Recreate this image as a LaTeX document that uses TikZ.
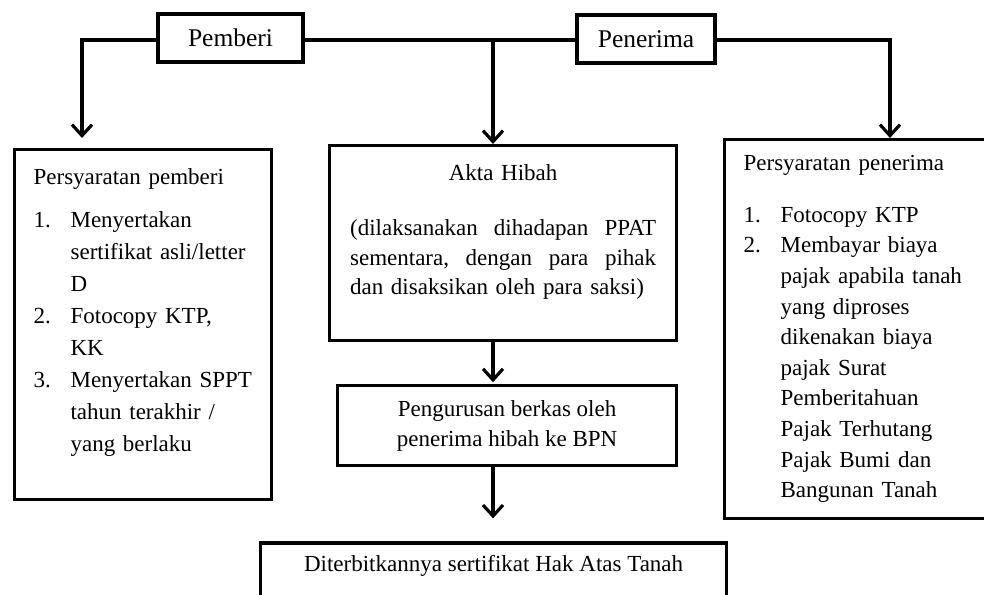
\documentclass[tikz,border=0pt]{standalone}
\usepackage{fontspec}
\setmainfont{Liberation Serif}
\usepackage{tikz}
\usetikzlibrary{arrows.meta, positioning}
\tikzset{
  box/.style={rectangle, draw, line width=3.2pt, fill=white, inner ysep=0pt,
              font=\fontsize{23}{30}\selectfont},
  headbox/.style={box, minimum height=48pt, font=\fontsize{25.5}{30}\selectfont},
  link/.style={line width=3.2pt},
  arrow/.style={link, -{Straight Barb[length=11pt,width=20pt]}},
}

\begin{document}
\begin{tikzpicture}[x=1pt, y=-1pt]
  \useasboundingbox (0,0) rectangle (984,594);
  \clip (0,0) rectangle (984,594);

  % Parties
  \node[headbox, minimum width=145pt] (pemberi) at (230.5,38) {Pemberi};
  \node[headbox, minimum width=138pt] (penerima) at (646,39) {Penerima};

  % Branch points on the top line
  \coordinate (lcorner) at (82,40);
  \coordinate (mid) at (493,40);
  \coordinate (rcorner) at (890,40);

  % Requirements of the giver
  \node[box, anchor=north west, inner xsep=19pt, text width=219pt, align=left,
        text height=35pt, text depth=315pt, font=\fontsize{23}{32}\selectfont]
    (pemberireq) at (13,148) {Persyaratan pemberi\\[11pt]
    \begin{tabular}[t]{@{}p{37pt}@{}l@{}}
      1. & Menyertakan\\
         & sertifikat asli/letter\\
         & D\\
      2. & Fotocopy KTP,\\
         & KK\\
      3. & Menyertakan SPPT\\
         & tahun terakhir /\\
         & yang berlaku
    \end{tabular}};

  % Deed
  \node[box, anchor=north west, inner xsep=20.5pt, text width=306pt, align=left,
        text height=35pt, text depth=160pt, font=\fontsize{23}{29.7}\selectfont]
    (akta) at (328,144) {\makebox[306pt]{Akta Hibah}\\[25pt]
    \makebox[306pt][s]{(dilaksanakan\hfill dihadapan\hfill PPAT}\\
    \makebox[306pt][s]{sementara,\hfill dengan\hfill para\hfill pihak}\\
    dan disaksikan oleh para saksi)};

  % Requirements of the receiver
  \node[box, anchor=north west, inner xsep=19pt, text width=239pt, align=left,
        text height=31pt, text depth=348pt, font=\fontsize{23}{30.6}\selectfont]
    (penerimareq) at (723,138) {Persyaratan penerima\\[21pt]
    \begin{tabular}[t]{@{}p{37pt}@{}l@{}}
      1. & Fotocopy KTP\\
      2. & Membayar biaya\\
         & pajak apabila tanah\\
         & yang diproses\\
         & dikenakan biaya\\
         & pajak Surat\\
         & Pemberitahuan\\
         & Pajak Terhutang\\
         & Pajak Bumi dan\\
         & Bangunan Tanah
    \end{tabular}};

  % Processing and result
  \node[box, below=42pt of akta, xshift=4pt, minimum width=339pt,
        minimum height=80pt, align=center] (berkas)
    {Pengurusan berkas oleh\\penerima hibah ke BPN};
  \node[box, below=74pt of berkas, xshift=-13.5pt, minimum width=466pt,
        text height=28pt, text depth=60pt] (terbit)
    {Diterbitkannya sertifikat Hak Atas Tanah};

  % Top line and drops
  \draw[arrow, shorten >=10pt] (pemberi.west |- lcorner) -- (lcorner)
    -- (lcorner |- pemberireq.north);
  \draw[link] (pemberi.east |- mid) -- (penerima.west |- mid);
  \draw[arrow] (mid) -- (mid |- akta.north);
  \draw[arrow] (penerima.east |- rcorner) -- (rcorner)
    -- (rcorner |- penerimareq.north);

  % Flow down the middle
  \draw[arrow, shorten >=2pt] (akta.south -| mid) -- (mid |- berkas.north);
  \draw[arrow, shorten >=23pt] (berkas.south -| mid) -- (mid |- terbit.north);
\end{tikzpicture}
\end{document}
